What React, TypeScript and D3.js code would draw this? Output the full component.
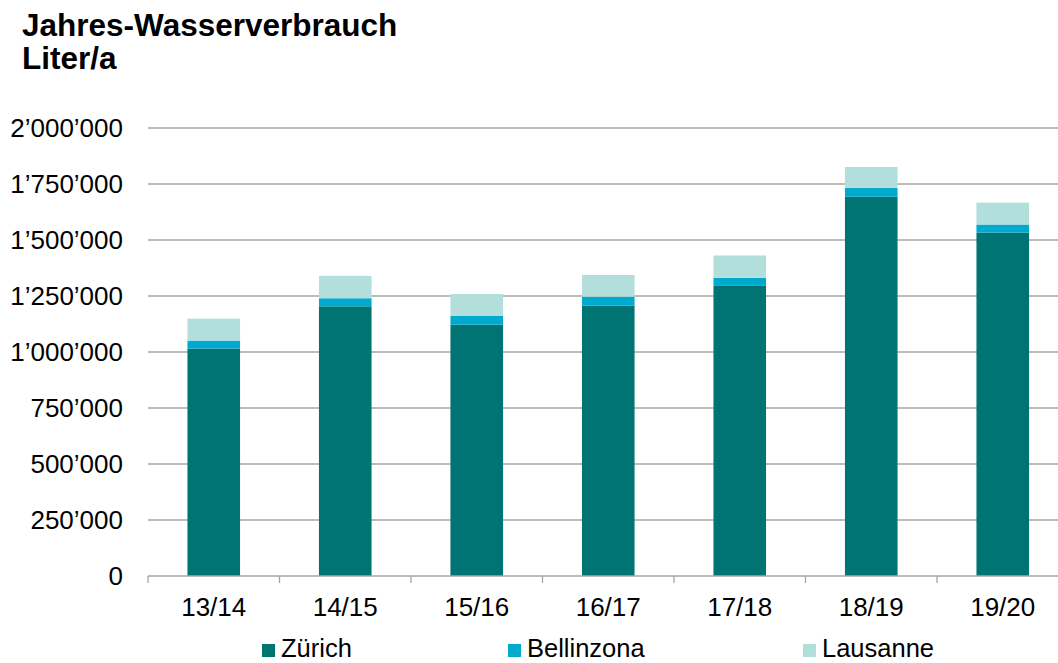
import React from "react";
import * as d3 from "d3";

const categories = ["13/14", "14/15", "15/16", "16/17", "17/18", "18/19", "19/20"];
const zurich = [1015000, 1204000, 1122000, 1207000, 1295000, 1693000, 1533000];
const bellinzona = [36000, 36000, 39000, 40000, 36000, 39000, 36000];
const lausanne = [98000, 100000, 98000, 97000, 100000, 94000, 98000];
const seriesNames = ["Zürich", "Bellinzona", "Lausanne"];
const seriesColors = ["#007473", "#00AACE", "#B2DFDC"];
const yTicks = [0, 250000, 500000, 750000, 1000000, 1250000, 1500000, 1750000, 2000000];

const W = 1058;
const H = 663;
const font = "'Liberation Sans', Arial, sans-serif";

function fmt(v: number): string {
  return d3.format(",")(v).replace(/,/g, "\u2019");
}

export default function App() {
  const x = d3
    .scaleBand<string>()
    .domain(categories)
    .range([148, 1068.5])
    .paddingInner(0.6)
    .paddingOuter(0.3);
  const step = x.step();
  const y = d3.scaleLinear().domain([0, 2000000]).range([576, 128]);

  const rows = categories.map((c, i) => ({
    cat: c,
    "Zürich": zurich[i],
    Bellinzona: bellinzona[i],
    Lausanne: lausanne[i],
  }));
  const stacked = d3.stack<any>().keys(seriesNames)(rows);

  const legendX = [262, 508, 803];

  return (
    <svg
      width={W}
      height={H}
      style={{ position: "absolute", left: 0, top: 0, background: "#fff" }}
      fontFamily={font}
    >
      <text x={22} y={36} fontSize={31.5} fontWeight="bold" fill="#000">
        Jahres-Wasserverbrauch
      </text>
      <text x={22} y={69} fontSize={31.5} fontWeight="bold" fill="#000">
        Liter/a
      </text>

      {yTicks.map((t) => (
        <g key={t}>
          {t > 0 && (
            <line x1={148} x2={W} y1={y(t)} y2={y(t)} stroke="#A6A6A6" strokeWidth={1.3} />
          )}
          <text
            x={123}
            y={y(t)}
            dy="0.36em"
            textAnchor="end"
            fontSize={26}
            fill="#000"
          >
            {fmt(t)}
          </text>
        </g>
      ))}

      {stacked.map((s, si) => (
        <g key={s.key} fill={seriesColors[si]}>
          {s.map((d, i) => (
            <rect
              key={i}
              x={x(categories[i])}
              width={x.bandwidth()}
              y={y(d[1])}
              height={y(d[0]) - y(d[1])}
            />
          ))}
        </g>
      ))}

      <line x1={148} x2={W} y1={576} y2={576} stroke="#A6A6A6" strokeWidth={1.3} />
      {d3.range(categories.length + 1).map((i) => (
        <line
          key={i}
          x1={148 + i * step}
          x2={148 + i * step}
          y1={576}
          y2={583}
          stroke="#A6A6A6"
          strokeWidth={1.3}
        />
      ))}
      {categories.map((c) => (
        <text
          key={c}
          x={(x(c) as number) + x.bandwidth() / 2}
          y={616}
          textAnchor="middle"
          fontSize={26}
          fill="#000"
        >
          {c}
        </text>
      ))}

      {seriesNames.map((n, i) => (
        <g key={n}>
          <rect x={legendX[i]} y={644} width={13} height={13} fill={seriesColors[i]} />
          <text x={legendX[i] + 19} y={657} fontSize={25.5} fill="#000">
            {n}
          </text>
        </g>
      ))}
    </svg>
  );
}
